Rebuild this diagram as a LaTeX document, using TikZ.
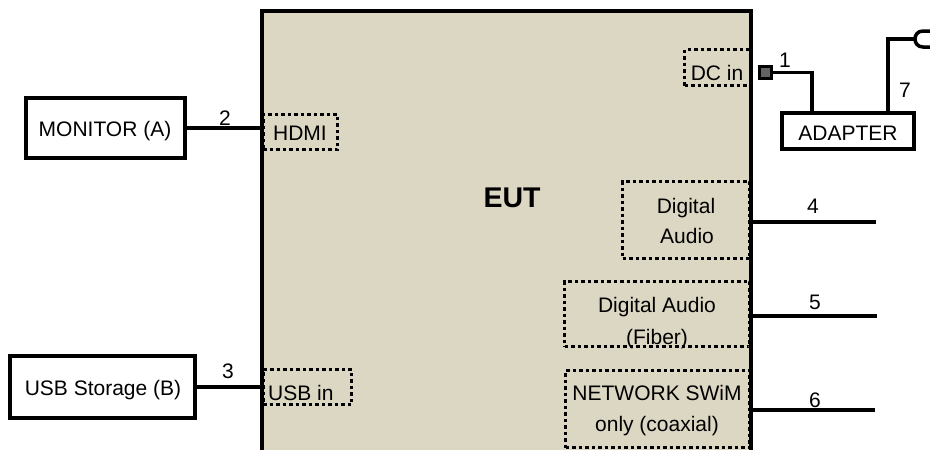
\documentclass[tikz,border=0pt]{standalone}
\usepackage{fontspec}
\setmainfont{Liberation Sans}
\definecolor{eutfill}{RGB}{220,215,195}
\definecolor{plugfill}{RGB}{100,100,100}
\newcommand\mytext{\fontsize{21}{32}\selectfont}
\newcommand\myeut{\fontsize{28.5}{32}\selectfont\bfseries}
\begin{document}
\begin{tikzpicture}[x=1pt,y=-1pt,
 box/.style={draw,line width=4.5pt,fill=white,inner sep=0pt},
 port/.style={draw,line width=3.5pt,dash pattern=on 3.5pt off 3pt,inner sep=0pt},
 txt/.style={font=\mytext,inner sep=0pt,anchor=base},
 wire/.style={line width=3.5pt}]
\useasboundingbox (0,0) rectangle (930,450);
\clip (0,0) rectangle (930,450);
\fill[white] (0,0) rectangle (930,450);

% EUT body
\node[fill=eutfill,inner sep=0pt,minimum width=489pt,minimum height=469pt] (eut) at (506.5,245.5) {};
\node[txt,font=\myeut] (euttx) at (512,207) {EUT};

% port texts
\node[txt] (hdmitx) at (300,140) {HDMI};
\node[txt] (dctx) at (717,80) {DC in};
\node[txt,anchor=base west] (usbintx) at (268,400) {USB in};
\node[txt] (da1) at (686,213) {Digital};
\node[txt] (da2) at (687,243) {Audio};
\node[txt] (fb1) at (657,312) {Digital Audio};
\node[txt] (fb2) at (657,344) {(Fiber)};
\node[txt] (nw1) at (657,400) {NETWORK SWiM};
\node[txt] (nw2) at (657,431) {only (coaxial)};

% dotted port boxes
\node[port,minimum width=74.5pt,minimum height=35pt] (hdmi) at (300.25,132) {};
\node[port,minimum width=66.5pt,minimum height=36pt] (dcin) at (717.75,67.5) {};
\node[port,minimum width=88.5pt,minimum height=35pt] (usbin) at (307.25,387) {};
\node[port,minimum width=127.5pt,minimum height=77pt] (dig) at (686.25,220) {};
\node[port,minimum width=185.5pt,minimum height=65pt] (fiber) at (657.25,314) {};
\node[port,minimum width=184.5pt,minimum height=77pt] (net) at (657.75,409) {};

% EUT border on top
\draw[line width=4.5pt] (eut.south west) rectangle (eut.north east);

% external boxes
\node[box,minimum width=159pt,minimum height=60pt] (mon) at (105.5,128) {};
\node[txt] (montx) at (105,136) {MONITOR (A)};
\node[box,minimum width=185pt,minimum height=62pt] (usb) at (102.5,387) {};
\node[txt] (usbtx) at (103,395) {USB Storage (B)};
\node[box,line width=4pt,minimum width=132.5pt,minimum height=35.5pt] (adapter) at (848,130.75) {};
\node[txt] (adtx) at (848,140) {ADAPTER};

% connectors
\draw[wire] (mon.east) -- (mon.east -| eut.west);
\draw[wire] (usb.east) -- (usb.east -| eut.west);

\node[draw,line width=3pt,fill=plugfill,inner sep=0pt,minimum size=12pt] (plug) at (765.5,72.5) {};
\coordinate (k1) at (812,72.5);
\draw[wire] (plug.east) -- (k1) -- (k1 |- adapter.north);

\coordinate (k7) at (888,39);
\coordinate (p7) at (915,39);
\draw[wire] (k7 |- adapter.north) -- (k7) -- (p7);
\draw[wire] (932,31) -- (923,31) .. controls (912.3,31) and (912.3,47) .. (923,47) -- (932,47);

\coordinate (e4) at (876,222);
\coordinate (e5) at (877,316);
\coordinate (e6) at (875,410);
\draw[wire] (e4 -| eut.east) -- (e4);
\draw[wire] (e5 -| eut.east) -- (e5);
\draw[wire] (e6 -| eut.east) -- (e6);

% connector labels
\node[txt] (l1) at (785,67) {1};
\node[txt] (l2) at (225,125) {2};
\node[txt] (l3) at (228,378) {3};
\node[txt] (l4) at (813,213) {4};
\node[txt] (l5) at (815,309) {5};
\node[txt] (l6) at (815,407) {6};
\node[txt] (l7) at (905,97) {7};
\end{tikzpicture}
\end{document}
